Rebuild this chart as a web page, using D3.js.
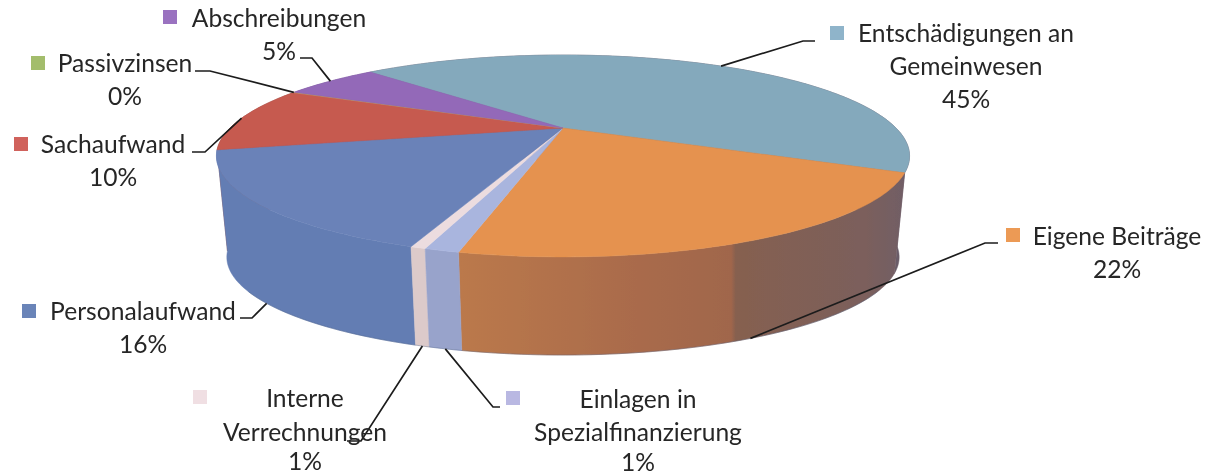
<!DOCTYPE html>
<html>
<head>
<meta charset="utf-8">
<script src="https://cdn.jsdelivr.net/npm/d3@7"></script>
<style>
  html, body { margin: 0; background: #fff; }
  text { font-family: Lato, "Open Sans", sans-serif; font-size: 24.6px; fill: #262626; }
</style>
</head>
<body>
<div id="chart"></div>
<script>
const categories = ['Entschädigungen an Gemeinwesen', 'Eigene Beiträge', 'Einlagen in Spezialfinanzierung', 'Interne Verrechnungen', 'Personalaufwand', 'Sachaufwand', 'Passivzinsen', 'Abschreibungen']
const shares = [44.2, 21.7, 1.25, 0.55, 16, 10.5, 0.1, 5.7]
const percentLabels = ['45%', '22%', '1%', '1%', '16%', '10%', '0%', '5%']
const topColors = ['#84a9bc', '#e5924f', '#a9b5de', '#ecdcdf', '#6a82b8', '#c65a50', '#bfa266', '#9369b8']
const sideColors = ['#6a5c68', 'url(#orangeSide)', '#98a3cb', '#dccaca', '#637db3', '#8f4a45', '#8a7a50', '#6c4f8a']
const keyColors = ['#8fb4ca', '#ec9a55', '#b9b8e2', '#f0dfe3', '#6b84b8', '#d0625c', '#a3bd6c', '#9a72c0']

// where each label block sits: lines are [text, x, baseline], elbow is the leader's bend
const labelLayout = [
  {key: [837, 33], lines: [['Entschädigungen an', 966, 42], ['Gemeinwesen', 966, 75], ['45%', 966, 108]], elbow: [[815, 41], [803, 41]], disk: 'top'},
  {key: [1013, 235], lines: [['Eigene Beiträge', 1117, 245], ['22%', 1117, 278]], elbow: [[998, 243], [985, 243]], disk: 'bottom'},
  {key: [513, 398], lines: [['Einlagen in', 638, 408], ['Spezialfinanzierung', 638, 441], ['1%', 638, 471]], elbow: [[500, 407], [493, 407]], disk: 'bottom'},
  {key: [200, 397], lines: [['Interne', 305, 407], ['Verrechnungen', 305, 441], ['1%', 305, 470]], elbow: [[347, 441], [361, 441]], disk: 'bottom'},
  {key: [29, 311], lines: [['Personalaufwand', 143, 320], ['16%', 143, 353]], elbow: [[240, 318], [252, 318]], disk: 'bottom'},
  {key: [21, 144], lines: [['Sachaufwand', 113, 153], ['10%', 113, 186]], elbow: [[192, 152], [205, 152]], disk: 'top'},
  {key: [38, 63], lines: [['Passivzinsen', 125, 72], ['0%', 125, 105]], elbow: [[195, 71], [210, 71]], disk: 'top'},
  {key: [170, 17], lines: [['Abschreibungen', 279, 27], ['5%', 279, 60]], elbow: [[300, 58], [312, 58]], disk: 'top'}
]

const width = 1205
const height = 475

// perspective of the disc
const apexX = 563
const apexY = 128
const scaleU = 333
const scaleV = 93.2
const tilt = 0.277
const depth = 102
const bottomScale = 0.97

function project(angle, disk) {
  const u = Math.sin(angle)
  const v = Math.cos(angle)
  const w = 1 + tilt * v
  const s = disk === 'bottom' ? bottomScale : 1
  const dy = disk === 'bottom' ? depth : 0
  return [apexX + s * scaleU * u / w, apexY + dy - s * scaleV * v / w]
}

function rim(d, disk) {
  const steps = Math.max(2, Math.ceil((d.endAngle - d.startAngle) / 0.02))
  return d3.range(steps + 1).map(i =>
    project(d.startAngle + (d.endAngle - d.startAngle) * i / steps, disk)
  )
}

const pie = d3
  .pie()
  .sort(null)
  .startAngle(-44 * Math.PI / 180)
  .endAngle(316 * Math.PI / 180)
const slices = pie(shares)
const line = d3.line()

const svg = d3
  .select('#chart')
  .append('svg')
  .attr('width', width)
  .attr('height', height)
  .style('display', 'block')

const defs = svg.append('defs')
const orangeSide = defs
  .append('linearGradient')
  .attr('id', 'orangeSide')
  .attr('gradientUnits', 'userSpaceOnUse')
  .attr('x1', 460)
  .attr('x2', 912)
  .attr('y1', 0)
  .attr('y2', 0)
const stops = [[0, '#bb794c'], [0.35, '#ab6c4c'], [0.6, '#a0664c'], [0.61, '#86604f'], [0.9, '#7b5f5c'], [1, '#6f5d68']]
orangeSide
  .selectAll('stop')
  .data(stops)
  .enter()
  .append('stop')
  .attr('offset', d => d[0])
  .attr('stop-color', d => d[1])

const blur = defs.append('filter').attr('id', 'soft')
blur.append('feGaussianBlur').attr('stdDeviation', 0.5)
const textBlur = defs.append('filter').attr('id', 'softText')
textBlur.append('feGaussianBlur').attr('stdDeviation', 0.3)

const pieGroup = svg.append('g').attr('filter', 'url(#soft)')

// side wall first, back slices before front ones
const midAngle = d => (d.startAngle + d.endAngle) / 2
pieGroup
  .append('g')
  .selectAll('path')
  .data(slices.slice().sort((a, b) => Math.cos(midAngle(b)) - Math.cos(midAngle(a))))
  .enter()
  .append('path')
  .attr('d', d => line(rim(d, 'top').concat(rim(d, 'bottom').reverse())) + 'Z')
  .attr('fill', d => sideColors[d.index])
  .attr('stroke', d => sideColors[d.index])
  .attr('stroke-width', 0.5)

// dark edge along the underside
pieGroup
  .append('path')
  .attr('d', line(rim({startAngle: 125 * Math.PI / 180, endAngle: 235 * Math.PI / 180}, 'bottom')))
  .attr('fill', 'none')
  .attr('stroke', '#46597f')
  .attr('stroke-opacity', 0.35)

pieGroup
  .append('g')
  .selectAll('path')
  .data(slices)
  .enter()
  .append('path')
  .attr('d', d => line([[apexX, apexY]].concat(rim(d, 'top'))) + 'Z')
  .attr('fill', d => topColors[d.index])
  .attr('stroke', d => topColors[d.index])
  .attr('stroke-width', 0.5)

// leaders go from the middle of each slice's rim to the label
svg
  .append('g')
  .selectAll('path')
  .data(slices)
  .enter()
  .append('path')
  .attr('d', d => {
    const layout = labelLayout[d.index]
    return line(layout.elbow.concat([project(midAngle(d), layout.disk)]))
  })
  .attr('fill', 'none')
  .attr('stroke', '#1c1c1c')
  .attr('stroke-width', 1.7)

const labels = svg
  .append('g')
  .attr('filter', 'url(#softText)')
  .selectAll('g')
  .data(labelLayout)
  .enter()
  .append('g')
  .attr('data-category', (d, i) => categories[i])
  .attr('data-percent', (d, i) => percentLabels[i])

labels
  .append('rect')
  .attr('x', d => d.key[0] - 7)
  .attr('y', d => d.key[1] - 7)
  .attr('width', 14)
  .attr('height', 14)
  .attr('fill', (d, i) => keyColors[i])

labels
  .selectAll('text')
  .data(d => d.lines)
  .enter()
  .append('text')
  .attr('x', d => d[1])
  .attr('y', d => d[2])
  .attr('text-anchor', 'middle')
  .text(d => d[0])
</script>
</body>
</html>
